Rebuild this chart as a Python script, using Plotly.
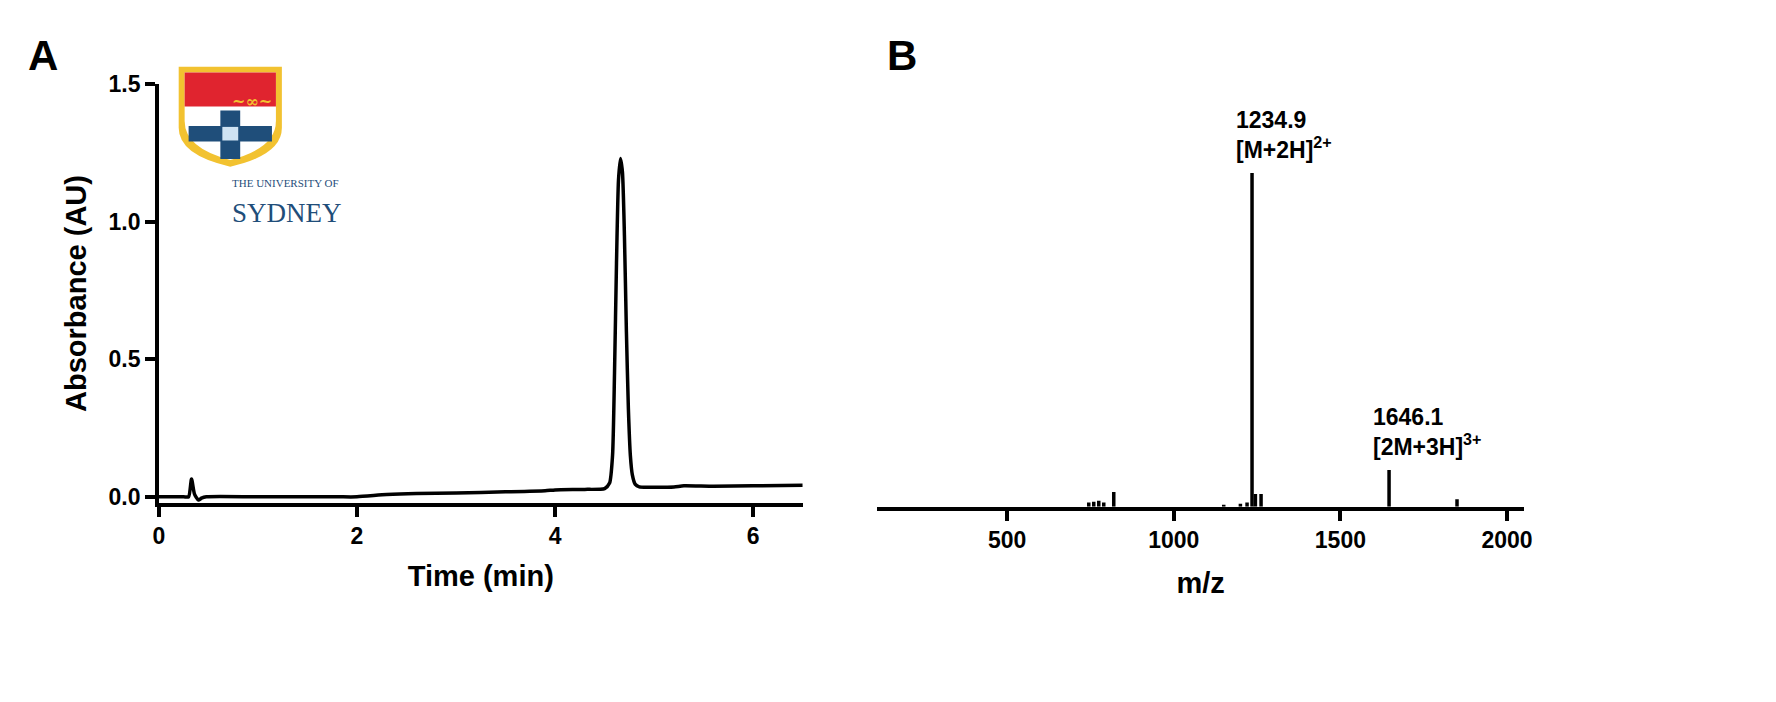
import plotly.graph_objects as go

# Panel A: HPLC chromatogram
time_min = [0.0, 0.25, 0.30, 0.33, 0.36, 0.40, 0.43, 0.48, 1.0, 1.8, 2.0, 2.3, 2.6, 3.0, 3.5, 3.9, 4.0, 4.3, 4.50,
            4.55, 4.58, 4.60, 4.62, 4.64, 4.66, 4.68, 4.70, 4.72, 4.74, 4.76, 4.78, 4.81, 4.85, 5.0, 5.2, 5.3, 5.6, 6.0, 6.5]
absorb = [0.0, 0.0, 0.0, 0.065, 0.01, -0.012, -0.005, 0.0, 0.0, 0.0, 0.0, 0.008, 0.012, 0.014, 0.018, 0.022, 0.025, 0.027, 0.03,
          0.05, 0.15, 0.45, 0.85, 1.15, 1.23, 1.18, 0.95, 0.6, 0.32, 0.15, 0.08, 0.045, 0.036, 0.035, 0.036, 0.04, 0.038, 0.04, 0.042]

# Panel B: mass spectrum (relative intensity)
mz = [745, 760, 775, 790, 820, 1150, 1200, 1220, 1234.9, 1245, 1262, 1646.1, 1850]
intensity = [1.0, 1.2, 1.4, 1.0, 3.5, 0.5, 0.7, 1.0, 79, 3.0, 3.0, 8.7, 1.8]

labels_B = [(1234.9, "1234.9<br>[M+2H]<sup>2+</sup>"), (1646.1, "1646.1<br>[2M+3H]<sup>3+</sup>")]

W, H = 1776, 702
def px(x):
    return x / W
def py(y):
    return 1 - y / H

stick_x, stick_y = [], []
for m, i in zip(mz, intensity):
    stick_x += [m, m, None]
    stick_y += [0, i, None]

fig = go.Figure()
fig.add_trace(go.Scatter(x=time_min, y=absorb, mode="lines", line=dict(color="black", width=3.5, shape="spline", smoothing=0.6),
                         xaxis="x", yaxis="y", showlegend=False))
fig.add_trace(go.Scatter(x=stick_x, y=stick_y, mode="lines", line=dict(color="black", width=3.5),
                         xaxis="x2", yaxis="y2", showlegend=False))

FAM = "Liberation Sans, Arial"
font_b = dict(family=FAM, size=23, color="black", weight="bold")
title_f = dict(family=FAM, size=29, color="black", weight="bold")
ax_common = dict(showline=True, linecolor="black", linewidth=3.5, ticks="outside", ticklen=10, tickwidth=3.5,
                 tickcolor="black", showgrid=False, zeroline=False, tickfont=font_b)

fig.update_layout(
    width=W, height=H, margin=dict(l=0, r=0, t=0, b=0),
    plot_bgcolor="white", paper_bgcolor="white",
    xaxis=dict(domain=[px(146), px(795)], range=[0, 6.5], tickvals=[0, 2, 4, 6], anchor="y",
               title=dict(text="Time (min)", font=title_f, standoff=18), **ax_common),
    yaxis=dict(domain=[py(496), py(65)], range=[-0.022, 1.5], tickvals=[0, 0.5, 1.0, 1.5],
               ticktext=["0.0", "0.5", "1.0", "1.5"], anchor="x",
               title=dict(text="Absorbance (AU)", font=title_f, standoff=14), **ax_common),
    xaxis2=dict(domain=[px(870), px(1522)], range=[110, 2051], tickvals=[500, 1000, 1500, 2000], anchor="y2",
                title=dict(text="m/z", font=title_f, standoff=22), **ax_common),
    yaxis2=dict(domain=[py(500), py(65)], range=[0, 100], visible=False, anchor="x2"),
)

for x, t in labels_B:
    idx = mz.index(x)
    fig.add_annotation(x=x, y=intensity[idx], xref="x2", yref="y2", text=t, showarrow=False,
                       xanchor="left", yanchor="bottom", align="left", xshift=-18, yshift=8,
                       font=dict(family=FAM, size=23, color="black", weight="bold"))

for lbl, x in [("A", 12), ("B", 878)]:
    fig.add_annotation(x=px(x), y=py(35), xref="paper", yref="paper", text=lbl,
                       showarrow=False, xanchor="left", yanchor="middle",
                       font=dict(family=FAM, size=42, color="black", weight="bold"))

# simplified University of Sydney crest
gold, red, navy = "#f2c230", "#e0242f", "#1f4e7a"
shield = "M {0},{1} L {2},{1} L {2},{3} Q {2},{4} {5},{6} Q {0},{4} {0},{3} Z"
def shield_path(l, t, r, b):
    mid = (l + r) / 2
    return shield.format(px(l), py(t), px(r), py(b - 40), py(b - 12), px(mid), py(b))
fig.add_shape(type="path", xref="paper", yref="paper", path=shield_path(166, 47, 270, 150),
              fillcolor=gold, line=dict(width=0))
fig.add_shape(type="path", xref="paper", yref="paper", path=shield_path(172, 53, 264, 143),
              fillcolor="white", line=dict(width=0))
fig.add_shape(type="rect", xref="paper", yref="paper", x0=px(172), x1=px(264), y0=py(53), y1=py(88),
              fillcolor=red, line=dict(width=0))
fig.add_shape(type="rect", xref="paper", yref="paper", x0=px(208), x1=px(228), y0=py(92), y1=py(142),
              fillcolor=navy, line=dict(width=0))
fig.add_shape(type="rect", xref="paper", yref="paper", x0=px(176), x1=px(260), y0=py(108), y1=py(124),
              fillcolor=navy, line=dict(width=0))
fig.add_shape(type="rect", xref="paper", yref="paper", x0=px(210), x1=px(226), y0=py(109), y1=py(123),
              fillcolor="#cfe3f3", line=dict(width=0))
fig.add_annotation(x=px(218), y=py(71), xref="paper", yref="paper", text="<b>~∞~</b>", showarrow=False,
                   font=dict(family="DejaVu Serif", size=16, color=gold))
fig.add_annotation(x=px(218), y=py(159), xref="paper", yref="paper", text="THE UNIVERSITY OF", showarrow=False,
                   font=dict(family="Liberation Serif", size=11, color=navy))
fig.add_annotation(x=px(218), y=py(180), xref="paper", yref="paper", text="SYDNEY", showarrow=False,
                   font=dict(family="Liberation Serif", size=27, color=navy))

fig.write_html("out.html")
